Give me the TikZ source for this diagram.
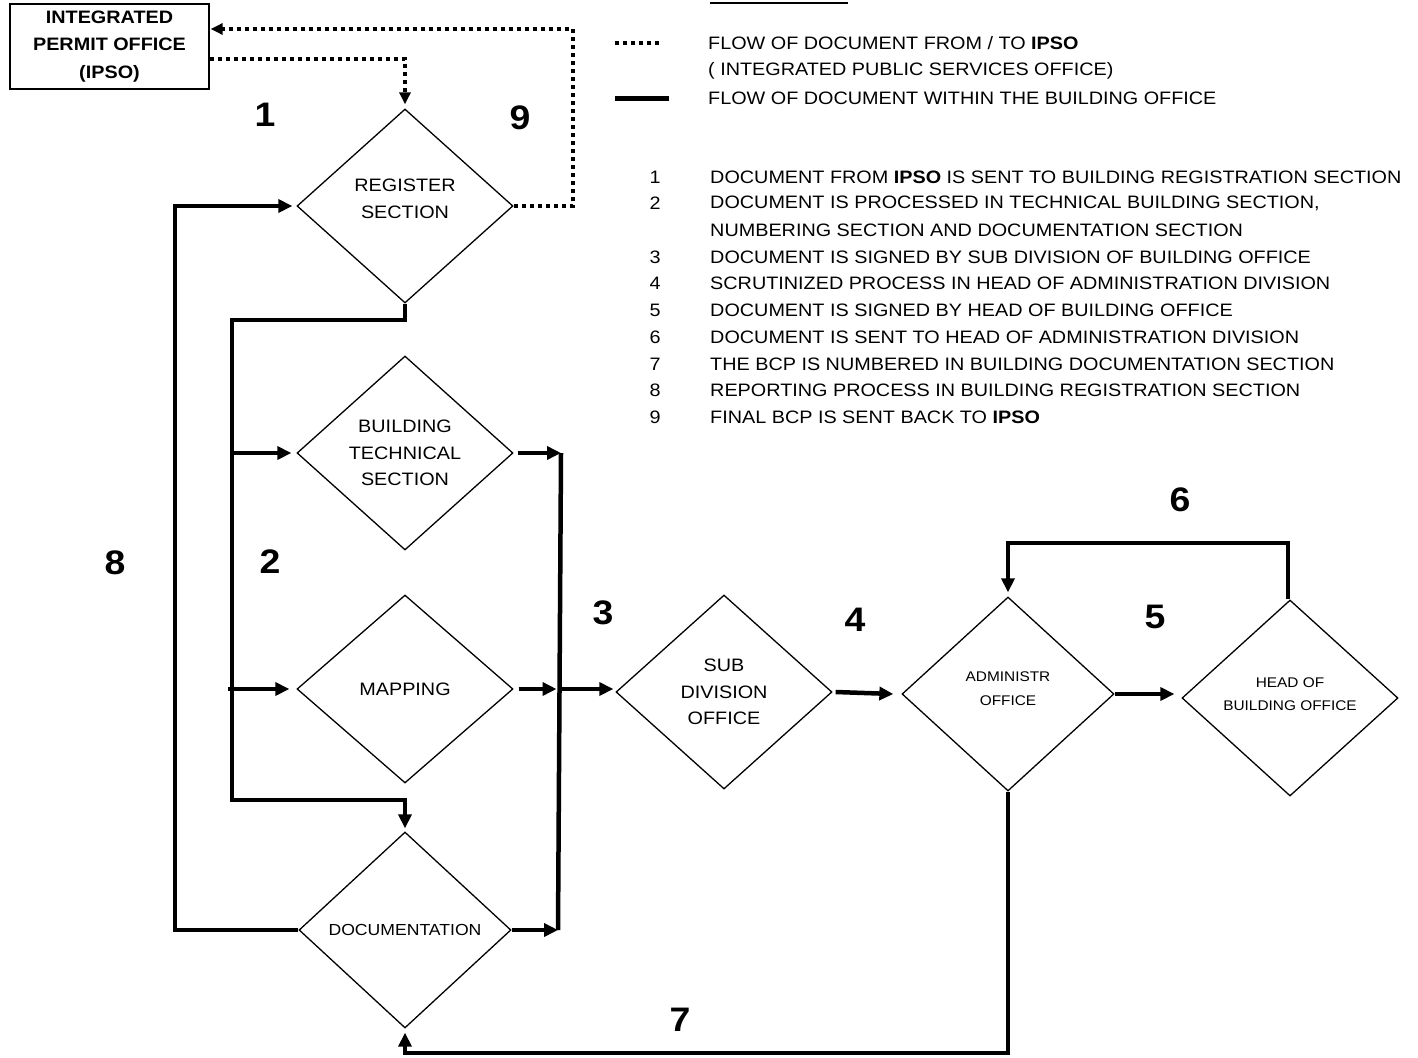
\documentclass[tikz,border=0pt]{standalone}
\usepackage{fontspec}
\setmainfont{Liberation Sans}[FakeStretch=1.1]
\usetikzlibrary{shapes.geometric,arrows.meta}

\begin{document}
\begin{tikzpicture}[x=1pt,y=-1pt,
  office/.style={draw, line width=1.3pt, diamond, inner sep=0pt,
    minimum width=216pt, minimum height=194pt, align=center,
    font=\fontsize{18}{26.5}\selectfont},
  flow/.style={line width=4.5pt, -{Triangle[length=14pt,width=13pt]}},
  plain/.style={line width=4.5pt},
  ipsoflow/.style={line width=4pt, dash pattern=on 4pt off 4pt,
    -{Triangle[length=12pt,width=11pt]}},
  tag/.style={font=\fontsize{34}{34}\selectfont\bfseries},
  legend/.style={anchor=west, inner sep=0pt, font=\fontsize{18}{18}\selectfont}]

  % keep the page at the reference size
  \useasboundingbox (0,0) rectangle (1418,1057);

  % offices
  \node[draw, line width=1.3pt, minimum width=199pt, minimum height=85pt,
    align=center, font=\bfseries\fontsize{18}{27.5}\selectfont]
    (ipso) at (109.5,46.5) {INTEGRATED\\PERMIT OFFICE\\(IPSO)};
  \node[office] (reg) at (405,206) {REGISTER\\SECTION\\[-12pt]};
  \node[office] (tech) at (405,453) {BUILDING\\TECHNICAL\\SECTION};
  \node[office, minimum height=188pt] (map) at (405,689) {MAPPING};
  \node[office, minimum width=212pt, minimum height=196pt,
    font=\fontsize{16}{20}\selectfont] (doc) at (405,930) {DOCUMENTATION};
  \node[office] (sub) at (724,692) {SUB\\DIVISION\\OFFICE};
  \node[office, minimum width=212pt, font=\fontsize{14}{24}\selectfont]
    (adm) at (1008,694) {ADMINISTR\\OFFICE\\[-14pt]};
  \node[office, minimum height=196pt, font=\fontsize{14}{23}\selectfont]
    (head) at (1290,698) {HEAD OF\\BUILDING OFFICE\\[-16pt]};

  % bends of the connectors
  \coordinate (c9) at (573,29);
  \coordinate (busTop) at (232,320);
  \coordinate (busBot) at (232,800);
  \coordinate (busRtop) at (561,453);
  \coordinate (busRbot) at (558,930);
  \coordinate (busRmid) at (559.5,689);
  \coordinate (c6) at (1288,543);
  \coordinate (c7) at (405,1053);
  \coordinate (c8) at (175,206);

  % flow from / to IPSO
  \draw[ipsoflow, shorten >=4pt] ([yshift=-12.5pt]ipso.east) -| (reg.north);
  \draw[ipsoflow, shorten >=1pt] (reg.east) -| (c9) -- ([yshift=17.5pt]ipso.east);

  % flow within the building office
  \draw[flow, shorten >=3pt] (reg.south) |- (busTop) -- (busBot) -| (doc.north);
  \draw[flow, shorten >=5pt] (busTop |- tech) -- (tech.west);
  \draw[flow, shorten >=7pt] ([xshift=-4pt]busTop |- map) -- (map.west);
  \draw[flow] ([xshift=4pt]tech.east) -- (busRtop);
  \draw[plain] (busRtop) -- (busRbot);
  \draw[flow] ([xshift=5pt]map.east) -- ([xshift=-3pt]busRmid);
  \draw[flow, shorten >=2pt] (busRmid) -- (busRmid -| sub.west);
  \draw[flow] (doc.east) -- (busRbot);
  \draw[flow] ([xshift=3pt]sub.east) -- ([xshift=-8pt]adm.west);
  \draw[flow] (adm.east) -- ([xshift=-7pt,yshift=4pt]head.west);
  \draw[flow, shorten >=4pt] ([xshift=-2pt]head.north) |- (c6) -| (adm.north);
  \draw[flow, shorten >=4pt] (adm.south) |- (c7) -- (doc.south);
  \draw[flow, shorten >=4pt] (doc.west) -| (c8) -- (reg.west);

  % step numbers
  \node[tag] (n1) at (265,115) {1};
  \node[tag] (n2) at (270,562) {2};
  \node[tag] (n3) at (603,613) {3};
  \node[tag] (n4) at (855,620) {4};
  \node[tag] (n5) at (1155,617) {5};
  \node[tag] (n6) at (1180,500) {6};
  \node[tag] (n7) at (680,1020) {7};
  \node[tag] (n8) at (115,563) {8};
  \node[tag] (n9) at (520,118) {9};

  % legend
  \draw[line width=2.5pt] (710,3) -- (848,3);
  \draw[line width=4pt, dash pattern=on 4pt off 4pt] (615,43) -- (662,43);
  \draw[line width=5pt] (615,98) -- (669,98);
  \node[legend] (l1) at (708,43) {FLOW OF DOCUMENT FROM / TO \textbf{IPSO}};
  \node[legend] (l2) at (708,71) {( INTEGRATED PUBLIC SERVICES OFFICE)};
  \node[legend] (l3) at (708,98) {FLOW OF DOCUMENT WITHIN THE BUILDING OFFICE};

  % steps list
  \foreach \n/\y/\txt in {
    1/177/{DOCUMENT FROM \textbf{IPSO} IS SENT TO BUILDING REGISTRATION SECTION},
    2/203/{DOCUMENT IS PROCESSED IN TECHNICAL BUILDING SECTION,},
    /230/{NUMBERING SECTION AND DOCUMENTATION SECTION},
    3/257/{DOCUMENT IS SIGNED BY SUB DIVISION OF BUILDING OFFICE},
    4/283/{SCRUTINIZED PROCESS IN HEAD OF ADMINISTRATION DIVISION},
    5/310/{DOCUMENT IS SIGNED BY HEAD OF BUILDING OFFICE},
    6/337/{DOCUMENT IS SENT TO HEAD OF ADMINISTRATION DIVISION},
    7/364/{THE BCP IS NUMBERED IN BUILDING DOCUMENTATION SECTION},
    8/390/{REPORTING PROCESS IN BUILDING REGISTRATION SECTION},
    9/417/{FINAL BCP IS SENT BACK TO \textbf{IPSO}}} {
    \node[legend, anchor=center] (k\y) at (655,\y) {\n};
    \node[legend] (t\y) at (710,\y) {\txt};
  }
\end{tikzpicture}
\end{document}
